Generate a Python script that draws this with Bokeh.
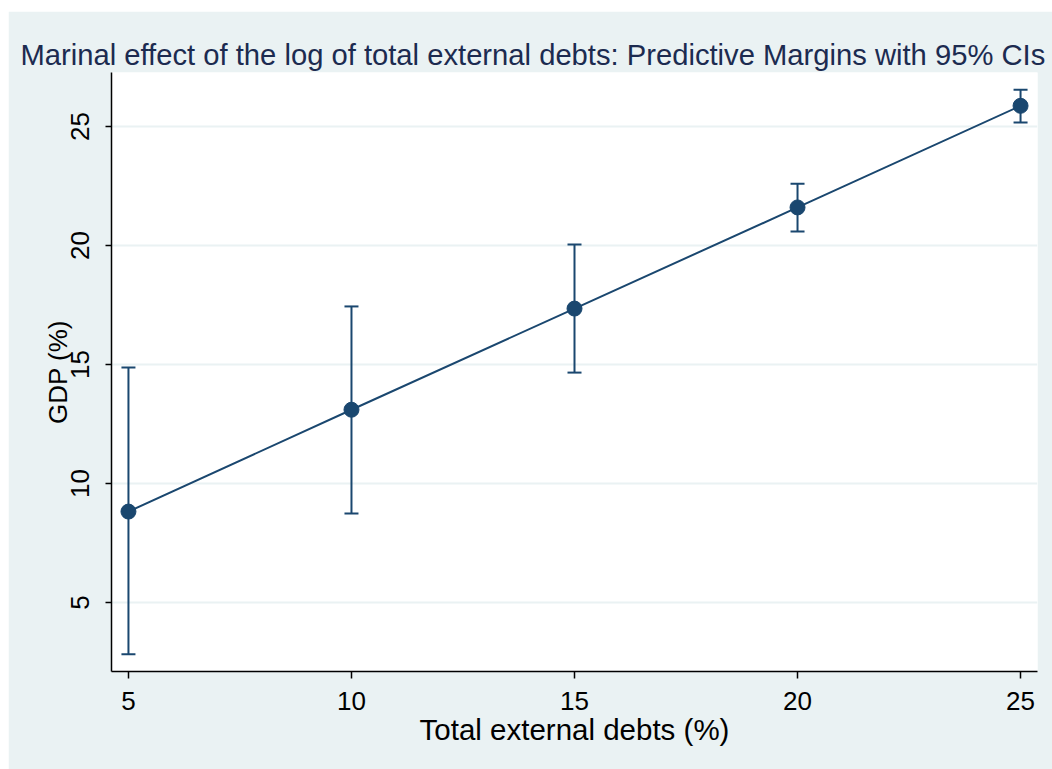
from bokeh.plotting import figure
from bokeh.models import ColumnDataSource, Whisker, TeeHead, FixedTicker
from bokeh.embed import file_html
from bokeh.resources import INLINE

# Predictive margins of GDP (%) at levels of total external debts (%)
debt = [5, 10, 15, 20, 25]
margin = [8.82, 13.10, 17.35, 21.60, 25.87]
ci_low = [2.82, 8.74, 14.66, 20.59, 25.17]
ci_high = [14.87, 17.44, 20.04, 22.60, 26.55]

x_ticks = [5, 10, 15, 20, 25]
y_ticks = [5, 10, 15, 20, 25]

NAVY = "#1A476F"
BG = "#EAF2F3"
FONT = "Liberation Sans"

src = ColumnDataSource(dict(x=debt, y=margin, lo=ci_low, hi=ci_high))

p = figure(
    width=1044, height=758, margin=(11, 0, 0, 8),
    x_range=(4.62, 25.38), y_range=(2.1, 27.27),
    output_backend="svg", toolbar_location=None,
    background_fill_color="white", border_fill_color=BG,
    outline_line_color=None,
    min_border_left=103, min_border_right=15,
    min_border_top=61, min_border_bottom=98,
    title="Marinal effect of the log of total external debts: Predictive Margins with 95% CIs",
)

p.title.text_font = FONT
p.title.text_font_size = "29.2px"
p.title.text_font_style = "normal"
p.title.text_color = "#1C2B50"
p.title.align = "left"
p.title.offset = -91
p.title.standoff = 3

# axes
for ax in (p.xaxis[0], p.yaxis[0]):
    ax.axis_line_color = "black"
    ax.axis_line_width = 1.5
    ax.major_tick_line_color = "black"
    ax.major_tick_line_width = 1.5
    ax.major_tick_in = 0
    ax.minor_tick_line_color = None
    ax.major_label_text_font = FONT
    ax.major_label_text_font_size = "26px"
    ax.major_label_text_color = "black"
    ax.axis_label_text_font = FONT
    ax.axis_label_text_font_style = "normal"
    ax.axis_label_text_color = "black"

p.xaxis.ticker = FixedTicker(ticks=x_ticks)
p.yaxis.ticker = FixedTicker(ticks=y_ticks)
p.xaxis.major_tick_out = 7
p.yaxis.major_tick_out = 6
p.xaxis.major_label_standoff = 13
p.yaxis.major_label_standoff = 16
p.yaxis.major_label_orientation = "vertical"

p.xaxis.axis_label = "Total external debts (%)"
p.xaxis.axis_label_text_font_size = "29.5px"
p.xaxis.axis_label_standoff = 0
p.yaxis.axis_label = "GDP (%)"
p.yaxis.axis_label_text_font_size = "26px"
p.yaxis.axis_label_standoff = -4

p.xgrid.grid_line_color = None
p.ygrid.grid_line_color = BG
p.ygrid.grid_line_width = 2

# confidence intervals
whisk = Whisker(
    source=src, base="x", lower="lo", upper="hi",
    line_color=NAVY, line_width=2,
    lower_head=TeeHead(size=14, line_color=NAVY, line_width=2),
    upper_head=TeeHead(size=14, line_color=NAVY, line_width=2),
)
p.add_layout(whisk)

p.line("x", "y", source=src, line_color=NAVY, line_width=2)
p.scatter("x", "y", source=src, size=15, fill_color=NAVY, line_color=NAVY)

open("out.html", "w").write(file_html(p, INLINE))
